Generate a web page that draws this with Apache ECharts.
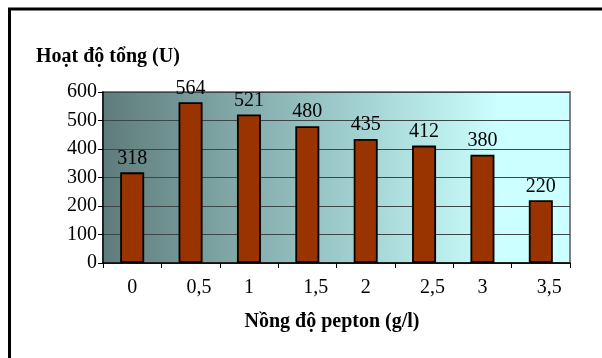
<!DOCTYPE html>
<html>
<head>
<meta charset="utf-8">
<script src="https://cdn.jsdelivr.net/npm/echarts@6/dist/echarts.min.js"></script>
<style>
  html, body { margin: 0; padding: 0; background: #fff; }
  #chart { width: 602px; height: 358px; }
</style>
</head>
<body>
<div id="chart"></div>
<script>
// Pepton concentration (g/l) and total activity (U)
const categories = ['0', '0,5', '1', '1,5', '2', '2,5', '3', '3,5'];
const activity = [318, 564, 521, 480, 435, 412, 380, 220];
const yTicks = [0, 100, 200, 300, 400, 500, 600];

const serif = '"Liberation Serif", "Times New Roman", serif';
const FS = 20;
const chart = echarts.init(document.getElementById('chart'), null, { renderer: 'canvas' });

chart.setOption({
  animation: false,
  backgroundColor: '#ffffff',
  title: {
    text: 'Hoạt độ tổng (U)',
    left: 31,
    top: 42,
    textStyle: { fontFamily: serif, fontWeight: 'bold', fontSize: FS, color: '#000' }
  },
  graphic: [
    {
      type: 'rect',
      shape: { x: 9.5, y: 9, width: 700, height: 500 },
      style: { fill: 'none', stroke: '#000', lineWidth: 3 },
      silent: true
    },
    {
      type: 'text',
      style: {
        text: 'Nồng độ pepton (g/l)',
        x: 332, y: 322,
        textAlign: 'center', textVerticalAlign: 'middle',
        font: 'bold ' + FS + 'px ' + serif,
        fill: '#000'
      },
      silent: true
    }
  ],
  grid: {
    left: 103, right: 32, top: 92, bottom: 95,
    show: true,
    borderColor: '#808080',
    borderWidth: 2,
    backgroundColor: new echarts.graphic.LinearGradient(0, 0, 1, 0, [
      { offset: 0, color: '#5f7b7b' },
      { offset: 0.5, color: '#9ccaca' },
      { offset: 0.85, color: '#ccffff' },
      { offset: 1, color: '#ccffff' }
    ])
  },
  xAxis: {
    type: 'category',
    data: categories,
    axisLine: { lineStyle: { color: '#000', width: 1.5 } },
    axisTick: { show: true, interval: 0, length: 5, lineStyle: { color: '#000', width: 1 } },
    axisLabel: {
      interval: 0,
      margin: 15,
      fontFamily: serif, fontSize: FS, color: '#000',
      formatter: v => v.indexOf(',') >= 0 ? '{c|' + v + '}' : v,
      rich: { c: { padding: [0, 0, 0, 17], fontFamily: serif, fontSize: FS, color: '#000' } }
    },
    splitLine: { show: false }
  },
  yAxis: {
    type: 'value',
    min: yTicks[0],
    max: yTicks[yTicks.length - 1],
    interval: 100,
    axisLine: { show: true, lineStyle: { color: '#000', width: 1.5 } },
    axisTick: { show: true, length: 5, lineStyle: { color: '#000', width: 1 } },
    axisLabel: { margin: 6, fontFamily: serif, fontSize: FS, color: '#000' },
    splitLine: { show: true, lineStyle: { color: '#3c4646', width: 1.2 } }
  },
  series: [{
    type: 'bar',
    data: activity,
    barWidth: 24,
    itemStyle: { color: '#993300', borderColor: '#000', borderWidth: 1.8 },
    label: {
      show: true,
      position: 'top',
      distance: 4,
      fontFamily: serif, fontSize: FS, color: '#000'
    }
  }]
});
</script>
</body>
</html>
